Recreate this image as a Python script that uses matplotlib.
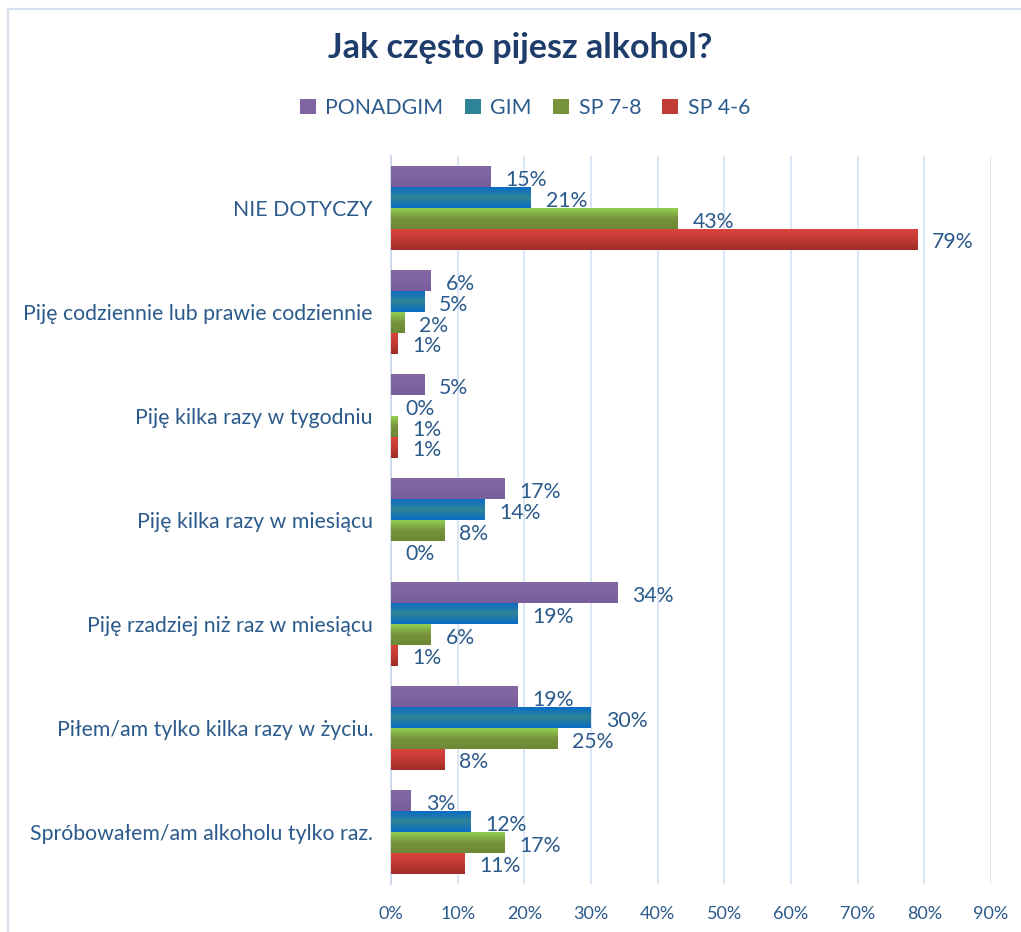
import numpy as np
import matplotlib.pyplot as plt
from matplotlib.colors import LinearSegmentedColormap
from matplotlib.patches import Rectangle

# Grouped horizontal bars: "Jak często pijesz alkohol?"

categories = [
    "NIE DOTYCZY",
    "Piję codziennie lub prawie codziennie",
    "Piję kilka razy w tygodniu",
    "Piję kilka razy w miesiącu",
    "Piję rzadziej niż raz w miesiącu",
    "Piłem/am tylko kilka razy w życiu.",
    "Spróbowałem/am alkoholu tylko raz.",
]
series_names = ["PONADGIM", "GIM", "SP 7-8", "SP 4-6"]
ponadgim = [15, 6, 5, 17, 34, 19, 3]
gim = [21, 5, 0, 14, 19, 30, 12]
sp78 = [43, 2, 1, 8, 6, 25, 17]
sp46 = [79, 1, 1, 0, 1, 8, 11]
x_ticks = [0, 10, 20, 30, 40, 50, 60, 70, 80, 90]

# (top, middle, bottom) shades for the bar gradients
shades = [
    ("#8468A6", "#8064A2", "#7A5E9C"),
    ("#0A6CC6", "#2F8396", "#0A6CC6"),
    ("#93CF52", "#77933C", "#6C8836"),
    ("#DA443D", "#C23B34", "#9E2B29"),
]

TEXT = "#2B5A8C"
TITLE = "#1F3D6B"
FS = 15.3


def main():
    plt.rcParams["font.family"] = ["Lato", "DejaVu Sans"]
    fig = plt.figure(figsize=(10.21, 9.32), dpi=100)
    ax = fig.add_axes([391 / 1021, 48 / 932, 600 / 1021, 728 / 932])

    # outer chart frame
    fig.patches.append(Rectangle((8 / 1021, -0.1), 1.2, 0.1 + (932 - 9) / 932,
                                 transform=fig.transFigure, fill=False,
                                 edgecolor="#D5E1F0", linewidth=1.5))

    data = [ponadgim, gim, sp78, sp46]
    n = len(categories)
    bh = 0.2
    y = np.arange(n)
    grad = np.linspace(0, 1, 64).reshape(-1, 1)

    for i, (vals, name, sh) in enumerate(zip(data, series_names, shades)):
        offs = y - 0.4 + bh * (i + 0.5)
        cmap = LinearSegmentedColormap.from_list(name, list(sh))
        for yc, v in zip(offs, vals):
            if v > 0:
                ax.imshow(grad, cmap=cmap, aspect="auto", zorder=3,
                          extent=(0, v, yc + bh / 2, yc - bh / 2),
                          interpolation="bilinear")
            ax.text(v + 2.2, yc + 0.03, f"{v}%", va="center", ha="left",
                    color=TEXT, fontsize=FS, zorder=4)
        # legend handle
        ax.bar(0, 0, color=sh[1], label=name)

    ax.set_xlim(0, 90)
    ax.set_ylim(n - 0.5, -0.5)
    ax.set_yticks(y)
    ax.set_yticklabels(categories, color=TEXT, fontsize=FS)
    ax.set_xticks(x_ticks)
    ax.set_xticklabels([f"{t}%" for t in x_ticks], color=TEXT, fontsize=13)
    ax.tick_params(axis="y", length=0, pad=13)
    ax.tick_params(axis="x", length=0, pad=16)

    ax.grid(axis="x", color="#D6E2F2", linewidth=1.2, zorder=0)
    ax.set_axisbelow(True)
    for s in ["top", "right", "bottom"]:
        ax.spines[s].set_visible(False)
    ax.spines["left"].set_color("#C9D6E8")
    ax.spines["left"].set_linewidth(1.2)

    fig.text(520 / 1021, 1 - 48 / 932, "Jak często pijesz alkohol?",
             ha="center", va="center", fontsize=24.5, fontweight="bold",
             color=TITLE)
    fig.legend(loc="center", bbox_to_anchor=(525 / 1021, 1 - 108 / 932),
               ncol=4, frameon=False, fontsize=FS, labelcolor=TEXT,
               handlelength=0.75, handleheight=0.75, handletextpad=0.45,
               columnspacing=1.0)

    fig.savefig("out.png", dpi=100)


if __name__ == "__main__":
    main()
